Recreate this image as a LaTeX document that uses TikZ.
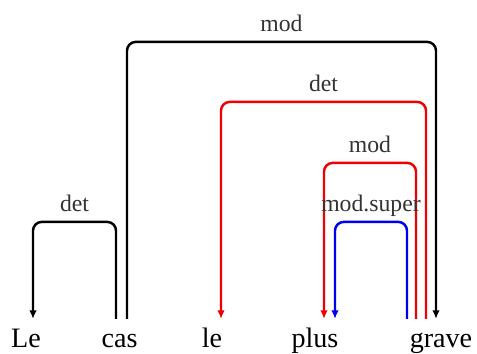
\documentclass[tikz,border=0pt]{standalone}
\usepackage{fontspec}
\setmainfont{Liberation Serif}
\usetikzlibrary{arrows.meta}
\definecolor{DepBlack}{RGB}{0,0,0}
\definecolor{DepRed}{RGB}{240,0,0}
\definecolor{DepBlue}{RGB}{0,0,240}
\tikzset{
  dep word/.style={
    anchor=base,
    font=\fontsize{16}{19}\selectfont,
    text height=11pt,
    text depth=3pt,
    inner xsep=1pt,
    inner ysep=5pt,
    outer sep=0pt
  },
  dep arc/.style={
    line width=1.4pt,
    rounded corners=5pt,
    -{Latex[length=1.7mm,width=1.5mm]}
  },
  dep label/.style={
    anchor=base,
    yshift=2mm,
    inner sep=0pt,
    font=\fontsize{13.5}{16}\selectfont,
    text=black!80
  }
}
\begin{document}
\begin{tikzpicture}[x=0.02cm,y=0.02cm]
\useasboundingbox (0,0) rectangle (477,353);
\node[dep word] (le1) at (26,6) {Le};
\node[dep word] (cas) at (119.5,6) {cas};
\node[dep word] (le2) at (212,6) {le};
\node[dep word] (plus) at (315,6) {plus};
\node[dep word] (grave) at (441,6) {grave};
\draw[dep arc, DepBlack] ([xshift=-0.7mm]cas.north) -- ++(0,97) -| node[dep label,pos=0.25]{det} ([xshift=1.4mm]le1.north);
\draw[dep arc, DepBlack] ([xshift=1.5mm]cas.north) -- ++(0,277) -| node[dep label,pos=0.25]{mod} ([xshift=-1mm]grave.north);
\draw[dep arc, DepRed] ([xshift=-3mm]grave.north) -- ++(0,217) -| node[dep label,pos=0.25]{det} ([xshift=1.8mm]le2.north);
\draw[dep arc, DepRed] ([xshift=-5mm]grave.north) -- ++(0,156) -| node[dep label,pos=0.25]{mod} ([xshift=1.8mm]plus.north);
\draw[dep arc, DepBlue] ([xshift=-6.8mm]grave.north) -- ++(0,97) -| node[dep label,pos=0.25]{mod.super} ([xshift=4mm]plus.north);
\end{tikzpicture}
\end{document}
